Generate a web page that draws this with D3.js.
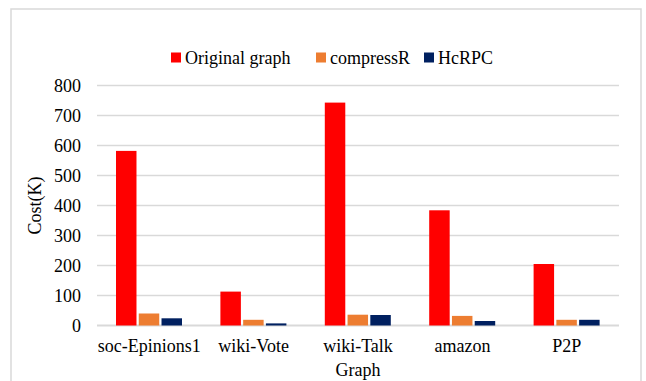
<!DOCTYPE html>
<html>
<head>
<meta charset="utf-8">
<script src="https://cdn.jsdelivr.net/npm/d3@7"></script>
<style>
  html, body { margin: 0; padding: 0; background: #fff; }
  svg, svg text { font-family: "Liberation Serif", "Times New Roman", serif !important; }
</style>
</head>
<body>
<svg id="chart" width="646" height="381"></svg>
<script>
// Datasets and cost (in thousands) for each method
const graphs = ["soc-Epinions1", "wiki-Vote", "wiki-Talk", "amazon", "P2P"];
const seriesNames = ["Original graph", "compressR", "HcRPC"];
const originalGraph = [582, 113, 743, 384, 205];
const compressR = [40, 19, 36, 32, 19];
const hcRPC = [24, 7, 35, 15, 19];
const yTicks = [0, 100, 200, 300, 400, 500, 600, 700, 800];
const colors = ["#FF0000", "#ED7D31", "#002060"];

const seriesValues = [originalGraph, compressR, hcRPC];
const rows = graphs.map((g, i) => ({
  graph: g,
  values: seriesNames.map((s, k) => ({ key: s, value: seriesValues[k][i] }))
}));

const svg = d3.select("#chart");
const plot = { left: 97, right: 619, top: 85.5, bottom: 325.5 };

// Outer frame
svg.append("rect")
  .attr("x", 11).attr("y", 9)
  .attr("width", 630).attr("height", 380)
  .attr("fill", "#fff")
  .attr("stroke", "#d9d9d9")
  .attr("stroke-width", 1.5);

const x0 = d3.scaleBand().domain(graphs).range([plot.left, plot.right]).padding(0);
const x1 = d3.scaleBand().domain(seriesNames).range([19, 85]).paddingInner(0.1);
const y = d3.scaleLinear().domain([0, 800]).range([plot.bottom, plot.top]);

// Horizontal gridlines
svg.append("g")
  .selectAll("line")
  .data(yTicks)
  .join("line")
  .attr("x1", plot.left).attr("x2", plot.right)
  .attr("y1", d => y(d)).attr("y2", d => y(d))
  .attr("stroke", "#d9d9d9")
  .attr("stroke-width", d => d === 0 ? 2 : 1.5);

// Y axis labels
const yAxis = d3.axisLeft(y).tickValues(yTicks).tickSize(0).tickPadding(0);
const gy = svg.append("g").attr("transform", `translate(81,0)`).call(yAxis);
gy.attr("font-family", null).attr("font-size", null);
gy.select(".domain").remove();
gy.selectAll("text")
  .attr("font-size", 18)
  .attr("fill", "#000")
  .attr("dy", "0.33em");

// Bars
svg.append("g")
  .selectAll("g")
  .data(rows)
  .join("g")
  .attr("transform", d => `translate(${x0(d.graph)},0)`)
  .selectAll("rect")
  .data(d => d.values)
  .join("rect")
  .attr("x", d => x1(d.key))
  .attr("width", x1.bandwidth())
  .attr("y", d => y(d.value))
  .attr("height", d => y(0) - y(d.value))
  .attr("fill", (d, i) => colors[i]);

// X axis labels
const xAxis = d3.axisBottom(x0).tickSize(0).tickPadding(0);
const gx = svg.append("g").attr("transform", `translate(0,${plot.bottom})`).call(xAxis);
gx.attr("font-family", null).attr("font-size", null);
gx.select(".domain").remove();
gx.selectAll("text")
  .attr("font-size", 18)
  .attr("fill", "#000")
  .attr("dy", null)
  .attr("y", 26.5);

// Axis titles
svg.append("text")
  .attr("x", (plot.left + plot.right) / 2)
  .attr("y", 376)
  .attr("text-anchor", "middle")
  .attr("font-size", 18)
  .text("Graph");

svg.append("text")
  .attr("transform", `translate(41,${(plot.top + plot.bottom) / 2}) rotate(-90)`)
  .attr("text-anchor", "middle")
  .attr("font-size", 18)
  .text("Cost(K)");

// Legend
const legendX = [171, 316, 424];
const legend = svg.append("g")
  .selectAll("g")
  .data(seriesNames)
  .join("g")
  .attr("transform", (d, i) => `translate(${legendX[i]},52.5)`);
legend.append("rect")
  .attr("width", 10).attr("height", 10)
  .attr("fill", (d, i) => colors[i]);
legend.append("text")
  .attr("x", 14).attr("y", 11.5)
  .attr("font-size", 18)
  .text(d => d);
</script>
</body>
</html>
